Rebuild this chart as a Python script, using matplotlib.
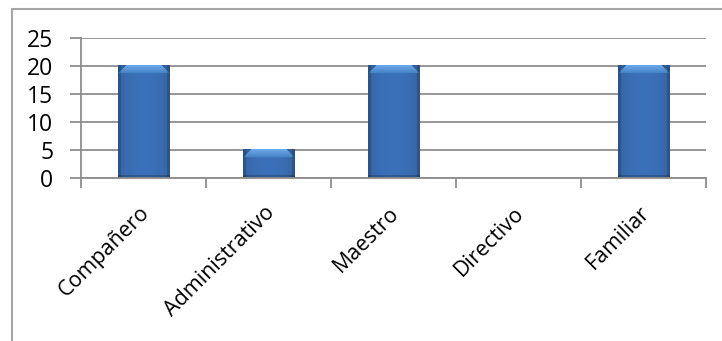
import numpy as np
import matplotlib
matplotlib.use('Agg')
import matplotlib.pyplot as plt
from matplotlib.patches import Rectangle

categorias = ['Compañero', 'Administrativo', 'Maestro', 'Directivo', 'Familiar']
valores = [20, 5, 20, 0, 20]

plt.rcParams['font.family'] = ['Open Sans', 'DejaVu Sans']

fig = plt.figure(figsize=(7.22, 3.41), dpi=100)
ax = fig.add_axes([0.1122, 0.478, 0.8657, 0.4106])

# marco del gráfico
fig.patches.append(Rectangle((0.0166, -0.1), 1.2, 1.0736, transform=fig.transFigure,
                             fill=False, edgecolor='#a6a6a6', linewidth=1.5))

gris = '#8e8e8e'
ancho = 0.41
x = np.arange(len(categorias))


def barra_bisel(h_px, w_px):
    # relleno azul con bisel claro arriba y bordes más oscuros
    base = np.array([0.23, 0.44, 0.72])
    img = np.ones((h_px, w_px, 3)) * base
    xs = np.linspace(-1, 1, w_px)
    sombra = 1 - 0.12 * np.abs(xs) ** 3
    img *= sombra[None, :, None]
    bis = 8
    for r in range(min(bis, h_px)):
        inset = bis - r
        claro = np.array([0.42, 0.66, 0.92]) - 0.02 * r
        img[r, inset:w_px - inset] = claro
        img[r, :inset] = base * 0.85
        img[r, w_px - inset:] = base * 0.85
    img[:, :3] *= 0.85
    img[:, -3:] *= 0.85
    img[-3:, :] *= 0.8
    return np.clip(img, 0, 1)


for xi, v in zip(x, valores):
    if v <= 0:
        continue
    h_px = int(round(v * 140 / 25))
    img = barra_bisel(h_px, 51)
    ax.imshow(img, extent=(xi - ancho / 2, xi + ancho / 2, 0, v),
              aspect='auto', zorder=2, interpolation='bilinear')

ax.set_xlim(-0.5, len(categorias) - 0.5)
ax.set_ylim(0, 25)
ax.set_yticks(range(0, 26, 5))
ax.yaxis.grid(True, color=gris, linewidth=1.3, zorder=1)
ax.set_axisbelow(True)

ax.set_xticks(np.arange(-0.5, len(categorias), 1))
ax.set_xticklabels([])
ax.tick_params(axis='x', length=7, color=gris, width=1.3)
ax.tick_params(axis='y', length=8, color=gris, width=1.3, labelsize=16.5, pad=12)

# etiquetas de categoría giradas 45°
for xi, nombre in zip(x, categorias):
    ax.annotate(nombre, xy=(xi, 0), xycoords=('data', 'axes fraction'),
                xytext=(2, -23), textcoords='offset points',
                rotation=45, ha='right', va='center', rotation_mode='anchor',
                fontsize=15.5, annotation_clip=False)

for lado in ['top', 'right']:
    ax.spines[lado].set_visible(False)
for lado in ['left', 'bottom']:
    ax.spines[lado].set_color(gris)
    ax.spines[lado].set_linewidth(1.3)

fig.savefig('out.png', dpi=100)
